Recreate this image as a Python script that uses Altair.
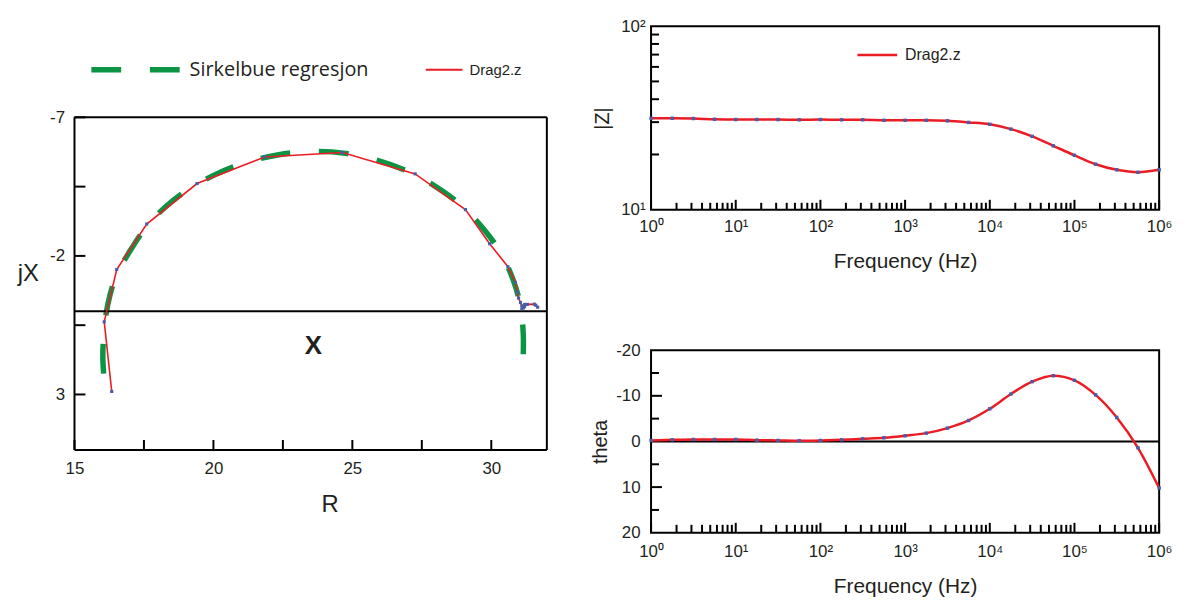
import altair as alt
import pandas as pd

# ---------------- data ----------------
FREQ = [1, 1.778, 3.162, 5.623, 10, 17.78, 31.62, 56.23, 100, 177.8, 316.2, 562.3,
        1000, 1778, 3162, 5623, 10000, 17780, 31620, 56230, 100000, 177800, 316200,
        562300, 1000000]
Z_MAG = [31.5, 31.5, 31.4, 31.1, 31.0, 31.0, 31.0, 30.9, 31.0, 30.9, 30.9, 30.7,
         30.7, 30.7, 30.5, 29.9, 29.2, 27.5, 25.1, 22.3, 19.8, 17.7, 16.5, 16.0, 16.5]
THETA = [-0.22, -0.36, -0.44, -0.44, -0.44, -0.29, -0.22, -0.15, -0.22, -0.36, -0.58,
         -0.8, -1.24, -1.82, -2.92, -4.6, -7.15, -10.4, -13.1, -14.4, -13.4, -10.2,
         -5.26, 1.39, 10.2]
NYQ_R = [31.67, 31.60, 31.55, 31.30, 31.20, 31.20, 31.15, 31.10, 31.15, 31.10, 31.05,
         30.98, 30.93, 30.87, 30.60, 29.94, 29.07, 27.26, 24.64, 21.85, 19.41, 17.60,
         16.52, 16.07, 16.34]
NYQ_X = [-0.15, -0.22, -0.26, -0.25, -0.25, -0.17, -0.13, -0.09, -0.13, -0.20, -0.32,
         -0.48, -0.69, -1.04, -1.61, -2.44, -3.67, -4.96, -5.73, -5.57, -4.61, -3.15,
         -1.51, 0.38, 2.89]
ARC_R = [16.05, 16.02, 16.05, 16.12, 16.28, 16.55, 16.95, 17.55, 18.25, 19.10, 20.10,
         21.20, 22.35, 23.55, 24.75, 25.90, 27.00, 28.00, 28.95, 29.70, 30.35, 30.80,
         31.05, 31.15, 31.15, 31.12]
ARC_X = [2.25, 1.60, 0.90, 0.20, -0.60, -1.40, -2.10, -3.00, -3.75, -4.40, -4.95,
         -5.38, -5.65, -5.77, -5.70, -5.45, -5.05, -4.50, -3.80, -3.00, -2.10, -1.10,
         -0.20, 0.80, 1.60, 2.30]
CENTER_R = [23.6]
CENTER_X = [1.25]
CENTER_TEXT = ["X"]

LEGEND_LEFT = ["Sirkelbue regresjon", "Drag2.z"]
LEGEND_RIGHT = ["Drag2.z"]

NYQ_X_DOMAIN = [15, 32]
NYQ_Y_DOMAIN = [-7, 5]          # framed region of the Nyquist plot
NYQ_Y_SCALE = [-10.29, 5]       # extra room above the frame holds the legend
NYQ_X_LABELS = [15, 20, 25, 30]
NYQ_Y_LABELS = [-7, -2, 3]
NYQ_X_TICKS = [15, 17.5, 20, 22.5, 25, 27.5, 30]
NYQ_Y_TICKS = [-7, -4.5, -2, 0.5, 3]
FREQ_DOMAIN = [1, 1000000]
DECADES = [1, 10, 100, 1000, 10000, 100000, 1000000]
FREQ_MINOR = [2, 3, 4, 5, 6, 7, 8, 9,
              20, 30, 40, 50, 60, 70, 80, 90,
              200, 300, 400, 500, 600, 700, 800, 900,
              2000, 3000, 4000, 5000, 6000, 7000, 8000, 9000,
              20000, 30000, 40000, 50000, 60000, 70000, 80000, 90000,
              200000, 300000, 400000, 500000, 600000, 700000, 800000, 900000]
Z_DOMAIN = [10, 100]
Z_LABELS = [10, 100]
Z_MINOR = [20, 30, 40, 50, 60, 70, 80, 90]
TH_DOMAIN = [-20, 20]
TH_LABELS = [-20, -10, 0, 10, 20]
TH_MAJOR = [-10, 10]
TH_MINOR = [-15, -5, 5, 15]
ZERO = [0]

# ---------------- styles ----------------
RED = "#ec1c24"
BLUE = "#4a5ba8"
GREEN = "#0b9444"
INK = "#231f20"
FONT = "Liberation Sans"

HYPHEN = "datum.value < 0 ? '-' + abs(datum.value) : '' + datum.value"
POW10 = ("'10' + substring('\u2070\u00b9\u00b2\u00b3\u2074\u2075\u2076', "
         "round(log(datum.value) / LN10), round(log(datum.value) / LN10) + 1)")

dummy = pd.DataFrame({"k": [0]})

# ---------------- Nyquist panel (legend strip on top) ----------------
WL, HL = 476, 427
xs = alt.Scale(domain=NYQ_X_DOMAIN, nice=False, zero=False)
ys = alt.Scale(domain=NYQ_Y_SCALE, nice=False, zero=False, reverse=True)

x_axis = alt.Axis(values=NYQ_X_LABELS, title="R", labelFontSize=17, labelPadding=11,
                  labelFlush=False, labelOverlap=False, titleFontSize=24,
                  titleX=257, titleY=55, titleBaseline="middle", titleAlign="center")
y_axis = alt.Axis(values=NYQ_Y_LABELS, title="jX", labelFontSize=17, labelPadding=10,
                  labelFlush=False, labelOverlap=False, labelExpr=HYPHEN,
                  titleFontSize=24, titleAngle=0, titleX=-47, titleY=249,
                  titleBaseline="middle", titleAlign="center")

df_arc = pd.DataFrame({"i": list(range(len(ARC_R))), "R": ARC_R, "X": ARC_X})
df_nyq = pd.DataFrame({"i": list(range(len(NYQ_R))), "R": NYQ_R, "X": NYQ_X})

arc = alt.Chart(df_arc).mark_line(
    color=GREEN, strokeWidth=5.5, strokeDash=[30, 29], interpolate="catmull-rom"
).encode(
    x=alt.X("R:Q", scale=xs, axis=x_axis),
    y=alt.Y("X:Q", scale=ys, axis=y_axis),
    order="i:Q",
)
zero_nyq = alt.Chart(pd.DataFrame({"X": ZERO})).mark_rule(color="black", strokeWidth=2).encode(
    y=alt.Y("X:Q", scale=ys)
)
# frame of the Nyquist plot
frame_h = alt.Chart(pd.DataFrame({"X": NYQ_Y_DOMAIN})).mark_rule(color="black", strokeWidth=2).encode(
    y=alt.Y("X:Q", scale=ys)
)
frame_v = alt.Chart(pd.DataFrame({"R": NYQ_X_DOMAIN,
                                  "X": [NYQ_Y_DOMAIN[0]] * 2,
                                  "X2": [NYQ_Y_DOMAIN[1]] * 2})).mark_rule(
    color="black", strokeWidth=2
).encode(x=alt.X("R:Q", scale=xs), y=alt.Y("X:Q", scale=ys), y2="X2:Q")

nyq_line = alt.Chart(df_nyq).mark_line(color=RED, strokeWidth=1.6).encode(
    x=alt.X("R:Q", scale=xs), y=alt.Y("X:Q", scale=ys), order="i:Q"
)
nyq_pts = alt.Chart(df_nyq).mark_square(color=BLUE, size=10, opacity=1).encode(
    x=alt.X("R:Q", scale=xs), y=alt.Y("X:Q", scale=ys)
)
nyq_xt = alt.Chart(pd.DataFrame({"R": NYQ_X_TICKS})).mark_rule(color="black", strokeWidth=2).encode(
    x=alt.X("R:Q", scale=xs), y=alt.value(HL), y2=alt.value(HL - 10)
)
nyq_yt = alt.Chart(pd.DataFrame({"X": NYQ_Y_TICKS})).mark_rule(color="black", strokeWidth=2).encode(
    y=alt.Y("X:Q", scale=ys), x=alt.value(0), x2=alt.value(11)
)
center = alt.Chart(pd.DataFrame({"R": CENTER_R, "X": CENTER_X, "t": CENTER_TEXT})).mark_text(
    font=FONT, fontSize=26, fontWeight="bold", color=INK
).encode(x=alt.X("R:Q", scale=xs), y=alt.Y("X:Q", scale=ys), text="t:N")

# legend strip above the frame
lg_green = alt.Chart(dummy).mark_rule(color=GREEN, strokeWidth=5.5, strokeDash=[30, 29]).encode(
    x=alt.value(17), x2=alt.value(106), y=alt.value(44)
)
lg_t1 = alt.Chart(dummy).mark_text(align="left", baseline="middle", font="Open Sans",
                                   fontSize=20, color=INK).encode(
    x=alt.value(116), y=alt.value(44), text=alt.value(LEGEND_LEFT[0])
)
lg_red = alt.Chart(dummy).mark_rule(color=RED, strokeWidth=2).encode(
    x=alt.value(354), x2=alt.value(391), y=alt.value(44)
)
lg_t2 = alt.Chart(dummy).mark_text(align="left", baseline="middle", font=FONT,
                                   fontSize=15, color=INK).encode(
    x=alt.value(398), y=alt.value(44), text=alt.value(LEGEND_LEFT[1])
)

left = alt.layer(arc, zero_nyq, frame_h, frame_v, nyq_xt, nyq_yt, nyq_line, nyq_pts,
                 center, lg_green, lg_t1, lg_red, lg_t2).properties(
    width=WL, height=HL, view=alt.ViewBackground(stroke="transparent")
)

# ---------------- Bode panels ----------------
WR, HZ, HT = 512, 185, 184
fs = alt.Scale(type="log", domain=FREQ_DOMAIN, nice=False)
zs = alt.Scale(type="log", domain=Z_DOMAIN, nice=False)
ts = alt.Scale(domain=TH_DOMAIN, nice=False, zero=False, reverse=True)


def freq_axis(pad, ty):
    return alt.Axis(values=DECADES, labelExpr=POW10, labelFontSize=17, labelPadding=pad,
                    labelFlush=False, labelOverlap=False, title="Frequency (Hz)",
                    titleFontSize=21, titleX=WR / 2, titleY=ty, titleBaseline="middle",
                    titleAlign="center")


df_bode = pd.DataFrame({"f": FREQ, "z": Z_MAG, "t": THETA})

z_line = alt.Chart(df_bode).mark_line(color=RED, strokeWidth=2.5, interpolate="monotone").encode(
    x=alt.X("f:Q", scale=fs, axis=freq_axis(9, 52.5)),
    y=alt.Y("z:Q", scale=zs, axis=alt.Axis(
        values=Z_LABELS, labelExpr="datum.value >= 100 ? '10\u00b2' : '10\u00b9'",
        labelFontSize=17, labelPadding=6, labelFlush=False, labelOverlap=False,
        title="|Z|", titleFontSize=20, titleAngle=270, titleX=-49, titleY=HZ / 2,
        titleBaseline="middle", titleAlign="center")),
)
z_pts = alt.Chart(df_bode).mark_square(color=BLUE, size=12, opacity=1).encode(
    x=alt.X("f:Q", scale=fs), y=alt.Y("z:Q", scale=zs)
)
z_xmaj = alt.Chart(pd.DataFrame({"f": DECADES})).mark_rule(color="black", strokeWidth=2).encode(
    x=alt.X("f:Q", scale=fs), y=alt.value(HZ), y2=alt.value(HZ - 10)
)
z_xmin = alt.Chart(pd.DataFrame({"f": FREQ_MINOR})).mark_rule(color="black", strokeWidth=2).encode(
    x=alt.X("f:Q", scale=fs), y=alt.value(HZ), y2=alt.value(HZ - 7)
)
z_ymin = alt.Chart(pd.DataFrame({"z": Z_MINOR})).mark_rule(color="black", strokeWidth=2).encode(
    y=alt.Y("z:Q", scale=zs), x=alt.value(0), x2=alt.value(8)
)
zl_red = alt.Chart(dummy).mark_rule(color=RED, strokeWidth=2.5).encode(
    x=alt.value(208), x2=alt.value(248), y=alt.value(29)
)
zl_txt = alt.Chart(dummy).mark_text(align="left", baseline="middle", font=FONT,
                                    fontSize=16, color=INK).encode(
    x=alt.value(256), y=alt.value(29), text=alt.value(LEGEND_RIGHT[0])
)
zchart = alt.layer(z_line, z_xmaj, z_xmin, z_ymin, z_pts, zl_red, zl_txt).properties(
    width=WR, height=HZ
)

t_line = alt.Chart(df_bode).mark_line(color=RED, strokeWidth=2.5, interpolate="monotone").encode(
    x=alt.X("f:Q", scale=fs, axis=freq_axis(11, 54.5)),
    y=alt.Y("t:Q", scale=ts, axis=alt.Axis(
        values=TH_LABELS, labelExpr=HYPHEN, labelFontSize=17, labelPadding=11,
        labelFlush=False, labelOverlap=False, title="theta", titleFontSize=20,
        titleAngle=270, titleX=-51, titleY=HT / 2, titleBaseline="middle",
        titleAlign="center")),
)
t_pts = alt.Chart(df_bode).mark_square(color=BLUE, size=12, opacity=1).encode(
    x=alt.X("f:Q", scale=fs), y=alt.Y("t:Q", scale=ts)
)
t_zero = alt.Chart(pd.DataFrame({"t": ZERO})).mark_rule(color="black", strokeWidth=2).encode(
    y=alt.Y("t:Q", scale=ts)
)
t_xmaj = alt.Chart(pd.DataFrame({"f": DECADES})).mark_rule(color="black", strokeWidth=2).encode(
    x=alt.X("f:Q", scale=fs), y=alt.value(HT), y2=alt.value(HT - 10)
)
t_xmin = alt.Chart(pd.DataFrame({"f": FREQ_MINOR})).mark_rule(color="black", strokeWidth=2).encode(
    x=alt.X("f:Q", scale=fs), y=alt.value(HT), y2=alt.value(HT - 8)
)
t_ymaj = alt.Chart(pd.DataFrame({"t": TH_MAJOR})).mark_rule(color="black", strokeWidth=2).encode(
    y=alt.Y("t:Q", scale=ts), x=alt.value(0), x2=alt.value(11)
)
t_ymin = alt.Chart(pd.DataFrame({"t": TH_MINOR})).mark_rule(color="black", strokeWidth=2).encode(
    y=alt.Y("t:Q", scale=ts), x=alt.value(0), x2=alt.value(8)
)
tchart = alt.layer(t_zero, t_line, t_xmaj, t_xmin, t_ymaj, t_ymin, t_pts).properties(
    width=WR, height=HT
)

# ---------------- layout ----------------
right = alt.vconcat(zchart, tchart, spacing=141.5, bounds="flush")

chart = alt.hconcat(left, right, spacing=105, bounds="flush").properties(
    padding={"left": 8, "top": 6, "right": 5, "bottom": 5}
).configure_view(
    stroke="black", strokeWidth=2
).configure_axis(
    labelFont=FONT, titleFont=FONT, labelColor=INK, titleColor=INK,
    titleFontWeight="normal", grid=False, domain=False, ticks=False
)

chart.save("out.html", embed_options={"renderer": "svg", "actions": False})
